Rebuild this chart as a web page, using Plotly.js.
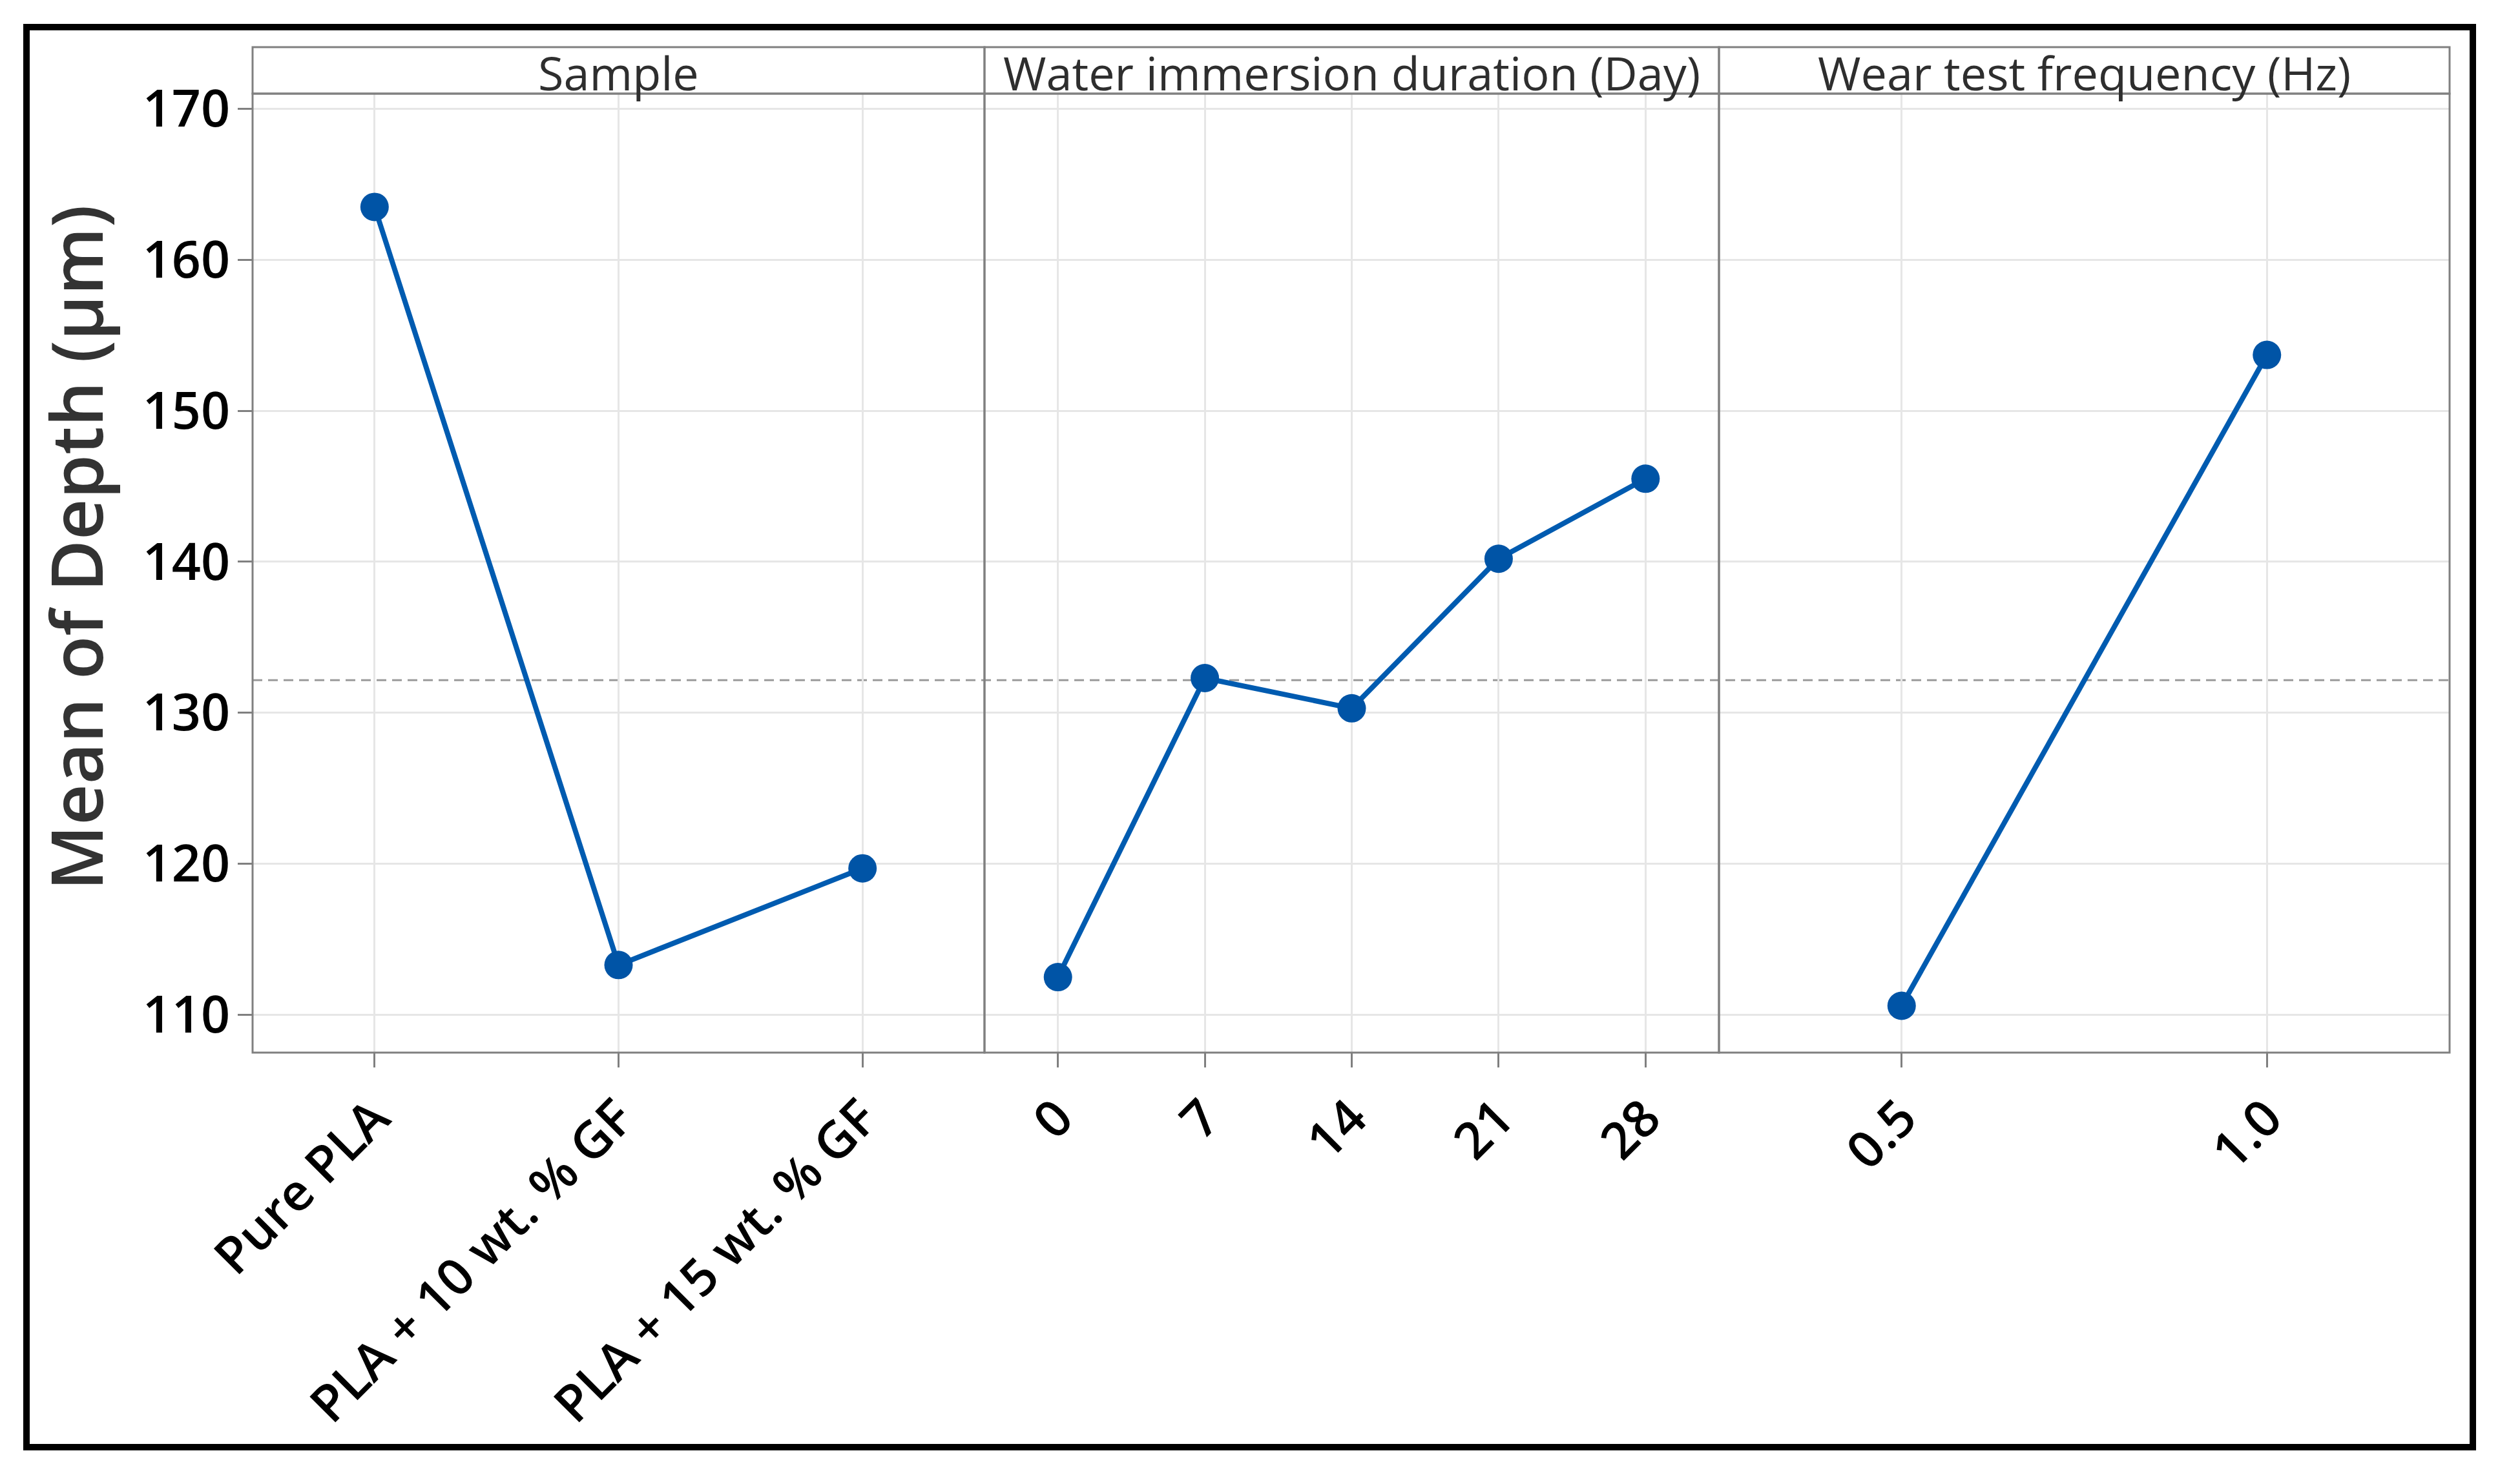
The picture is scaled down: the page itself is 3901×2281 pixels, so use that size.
<!DOCTYPE html>
<html>
<head>
<meta charset="utf-8">
<script src="https://cdn.plot.ly/plotly-3.0.1.min.js"></script>
<style>html,body{margin:0;padding:0;background:#fff;}#chart{width:3901px;height:2281px;}</style>
</head>
<body>
<div id="chart"></div>
<script>
// ---- data ----
const samples = ["Pure PLA", "PLA + 10 wt. % GF", "PLA + 15 wt. % GF"];
const sampleMeans = [163.5, 113.3, 119.7];
const days = ["0", "7", "14", "21", "28"];
const dayMeans = [112.5, 132.3, 130.3, 140.2, 145.5];
const freqs = ["0.5", "1.0"];
const freqMeans = [110.6, 153.7];
const panelTitles = ["Sample", "Water immersion duration (Day)", "Wear test frequency (Hz)"];
const yTickVals = [110, 120, 130, 140, 150, 160, 170];
const yTitle = "Mean of Depth (µm)";

// ---- geometry helpers ----
const W = 3901, H = 2281;
const L = 391, R = 3792, T = 145, B = 1630;
const pw = R - L, ph = B - T;
const px2x = p => (p - L) / pw;
const px2y = p => (B - p) / ph;
const d1 = px2x(1524), d2 = px2x(2661);
const domains = [[0, d1], [d1, d2], [d2, 1]];
const stripTop = px2y(73);

const grandMean = sampleMeans.reduce((a, b) => a + b, 0) / sampleMeans.length;

const lineColor = '#005BB0', markerColor = '#0054A6';
const mk = (x, y, xa) => ({
  type: 'scatter', mode: 'lines+markers', x: x, y: y, xaxis: xa, yaxis: 'y',
  line: {color: lineColor, width: 8},
  marker: {color: markerColor, size: 44},
  hoverinfo: 'x+y', cliponaxis: false
});
const data = [mk(samples, sampleMeans, 'x'), mk(days, dayMeans, 'x2'), mk(freqs, freqMeans, 'x3')];

const tickFont = {family: 'Open Sans, Noto Sans, sans-serif', size: 79, color: '#000', weight: 600};
const xBase = (dom, n) => ({
  domain: dom, anchor: 'y', type: 'category', range: [-0.5, n - 0.5],
  tickangle: -45, ticks: 'outside', ticklen: 22, tickwidth: 3, tickcolor: '#808080',
  showgrid: true, gridcolor: '#E6E6E6', gridwidth: 3, zeroline: false, showline: false,
  tickfont: tickFont, fixedrange: true, automargin: false
});

const shapes = [];
domains.forEach(d => {
  shapes.push({type: 'rect', xref: 'paper', yref: 'paper', x0: d[0], x1: d[1], y0: 0, y1: 1,
    line: {color: '#808080', width: 3}, fillcolor: 'rgba(0,0,0,0)', layer: 'above'});
  shapes.push({type: 'rect', xref: 'paper', yref: 'paper', x0: d[0], x1: d[1], y0: 1, y1: stripTop,
    line: {color: '#808080', width: 3}, fillcolor: 'rgba(0,0,0,0)', layer: 'above'});
});
shapes.push({type: 'line', xref: 'paper', yref: 'y', x0: 0, x1: 1, y0: grandMean, y1: grandMean,
  line: {color: '#9B9B9B', width: 3, dash: '15px,9px'}, layer: 'between'});
shapes.push({type: 'rect', xref: 'paper', yref: 'paper', x0: px2x(41), x1: px2x(3828), y0: px2y(2241), y1: px2y(42),
  line: {color: '#000', width: 10}, fillcolor: 'rgba(0,0,0,0)', layer: 'above'});

const annotations = panelTitles.map((t, i) => ({
  text: t, xref: 'paper', yref: 'paper', x: (domains[i][0] + domains[i][1]) / 2, y: px2y(112),
  xanchor: 'center', yanchor: 'middle', showarrow: false,
  font: {family: 'Open Sans, Noto Sans, sans-serif', size: 72, color: '#2E2E2E'}
}));
annotations.push({text: yTitle, xref: 'paper', yref: 'paper', x: px2x(116), y: px2y(848),
  xanchor: 'center', yanchor: 'middle', showarrow: false, textangle: -90,
  font: {family: 'Open Sans, Noto Sans, sans-serif', size: 110, color: '#333333', weight: 600}});

const layout = {
  width: W, height: H,
  margin: {l: L, r: W - R, t: T, b: H - B, pad: 0},
  paper_bgcolor: '#fff', plot_bgcolor: '#fff', showlegend: false,
  xaxis: xBase(domains[0], samples.length),
  xaxis2: xBase(domains[1], days.length),
  xaxis3: xBase(domains[2], freqs.length),
  yaxis: {
    domain: [0, 1], anchor: 'x', range: [107.5, 171.0], tickmode: 'array', tickvals: yTickVals,
    ticks: 'outside', ticklen: 22, tickwidth: 3, tickcolor: '#808080', ticklabelstandoff: -4,
    showgrid: true, gridcolor: '#E6E6E6', gridwidth: 3, zeroline: false, showline: false,
    tickfont: tickFont, fixedrange: true, automargin: false
  },
  shapes: shapes, annotations: annotations
};

Plotly.newPlot('chart', data, layout, {staticPlot: true, displayModeBar: false});
</script>
</body>
</html>
